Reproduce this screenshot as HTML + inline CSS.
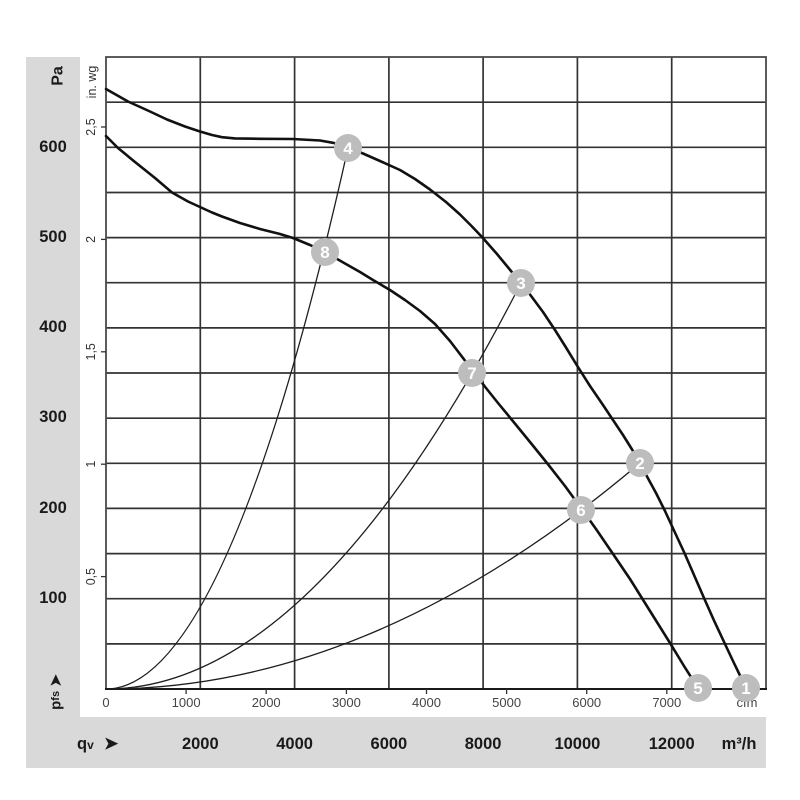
<!DOCTYPE html>
<html><head><meta charset="utf-8"><style>
html,body{margin:0;padding:0;background:#fff;}
svg{display:block;}
text{font-family:"Liberation Sans",Arial,sans-serif;}
</style></head><body>
<svg width="800" height="800" viewBox="0 0 800 800" xmlns="http://www.w3.org/2000/svg">
<rect x="0" y="0" width="800" height="800" fill="#fff"/>
<!-- gray bands -->
<rect x="26" y="57" width="54" height="661" fill="#d9d9d9"/>
<rect x="26" y="717" width="740" height="51" fill="#d9d9d9"/>
<rect x="80" y="57" width="686" height="660" fill="#fff"/>

<!-- grid -->
<g stroke="#333" stroke-width="1.7" fill="none">
<line x1="106" y1="643.9" x2="766" y2="643.9"/>
<line x1="106" y1="598.7" x2="766" y2="598.7"/>
<line x1="106" y1="553.6" x2="766" y2="553.6"/>
<line x1="106" y1="508.4" x2="766" y2="508.4"/>
<line x1="106" y1="463.3" x2="766" y2="463.3"/>
<line x1="106" y1="418.2" x2="766" y2="418.2"/>
<line x1="106" y1="373.0" x2="766" y2="373.0"/>
<line x1="106" y1="327.9" x2="766" y2="327.9"/>
<line x1="106" y1="282.7" x2="766" y2="282.7"/>
<line x1="106" y1="237.6" x2="766" y2="237.6"/>
<line x1="106" y1="192.5" x2="766" y2="192.5"/>
<line x1="106" y1="147.3" x2="766" y2="147.3"/>
<line x1="106" y1="102.2" x2="766" y2="102.2"/>
<line x1="200.3" y1="57" x2="200.3" y2="689"/>
<line x1="294.6" y1="57" x2="294.6" y2="689"/>
<line x1="388.9" y1="57" x2="388.9" y2="689"/>
<line x1="483.1" y1="57" x2="483.1" y2="689"/>
<line x1="577.4" y1="57" x2="577.4" y2="689"/>
<line x1="671.7" y1="57" x2="671.7" y2="689"/>
</g>
<rect x="106" y="57" width="660" height="632" fill="none" stroke="#4a4a4a" stroke-width="1.8"/>
<line x1="105" y1="689" x2="767" y2="689" stroke="#1a1a1a" stroke-width="2"/>

<!-- in. wg ticks -->
<g stroke="#333" stroke-width="1.3">
<line x1="101" y1="127" x2="106" y2="127"/>
<line x1="101" y1="239.4" x2="106" y2="239.4"/>
<line x1="101" y1="351.8" x2="106" y2="351.8"/>
<line x1="101" y1="464.2" x2="106" y2="464.2"/>
<line x1="101" y1="576.6" x2="106" y2="576.6"/>
</g>
<!-- cfm ticks -->
<g stroke="#333" stroke-width="1.3">
<line x1="186.1" y1="689" x2="186.1" y2="694"/>
<line x1="266.2" y1="689" x2="266.2" y2="694"/>
<line x1="346.4" y1="689" x2="346.4" y2="694"/>
<line x1="426.5" y1="689" x2="426.5" y2="694"/>
<line x1="506.6" y1="689" x2="506.6" y2="694"/>
<line x1="586.7" y1="689" x2="586.7" y2="694"/>
<line x1="666.8" y1="689" x2="666.8" y2="694"/>
</g>

<!-- system curves -->
<g stroke="#1e1e1e" stroke-width="1.3" fill="none">
<path d="M106,689 Q227,689 348,148"/>
<path d="M106,689 Q313.5,689 521,283"/>
<path d="M106,689 Q373,689 640,463"/>
</g>

<!-- fan curves -->
<g stroke="#111" stroke-width="2.6" fill="none" stroke-linejoin="round" stroke-linecap="round">
<polyline points="106,89 128,101.5 150,111.5 167,119.5 185,126.5 200,131.5 212,135 222,137.2 235,138.4 260,138.8 293,139 320,140.5 333,142.8 348,147.5 363,153.5 380,161 400,170 415,179 430,189.5 446,202 460,214.5 472,226.5 482,237 497,254 511,271 521,283 530,294.5 543,312 555,330 566,347.5 577,365.5 590,386 603,405 613,420 623,435 633,451 640,463 647,476.5 656,493 665,511 674,530.5 684,552 694,575 704,598 714,620.5 725,644 733,661 740,675.5 746,688"/>
<polyline points="106,136 118,148 135,162 155,178 172,192.5 188,201.5 200,207 212,212.5 222,216.5 240,223 260,229 280,234 293,238 310,245 325,252 345,263.5 360,272 373,280 390,290 405,300 420,311 435,324 450,341 463,358 472,370 486,388 498,403 512,420 530,442 547,463 565,486 581,508 596,529 611,551 630,579 650,611 670,643 684,666 698,688"/>
</g>

<!-- left axis labels -->
<text x="58" y="76" font-size="16" font-weight="bold" fill="#1a1a1a" text-anchor="middle" dominant-baseline="central" transform="rotate(-90 58 76)">Pa</text>
<text x="92" y="82" font-size="12.5" fill="#333" text-anchor="middle" dominant-baseline="central" transform="rotate(-90 92 82)">in. wg</text>
<g font-size="16.5" font-weight="bold" fill="#1a1a1a" text-anchor="middle">
<text x="53" y="152">600</text>
<text x="53" y="242">500</text>
<text x="53" y="332">400</text>
<text x="53" y="422">300</text>
<text x="53" y="513">200</text>
<text x="53" y="603">100</text>
</g>
<g font-size="12.5" fill="#333" text-anchor="middle">
<text x="95" y="127" transform="rotate(-90 95 127)">2,5</text>
<text x="95" y="239.4" transform="rotate(-90 95 239.4)">2</text>
<text x="95" y="351.8" transform="rotate(-90 95 351.8)">1,5</text>
<text x="95" y="464.2" transform="rotate(-90 95 464.2)">1</text>
<text x="95" y="576.6" transform="rotate(-90 95 576.6)">0,5</text>
</g>
<text x="56" y="692" font-size="15" font-weight="bold" fill="#1a1a1a" text-anchor="middle" dominant-baseline="central" transform="rotate(-90 56 692)">p<tspan font-size="11">fs</tspan> ➤</text>

<!-- cfm labels -->
<g font-size="13" fill="#444" text-anchor="middle">
<text x="106" y="707">0</text>
<text x="186.1" y="707">1000</text>
<text x="266.2" y="707">2000</text>
<text x="346.4" y="707">3000</text>
<text x="426.5" y="707">4000</text>
<text x="506.6" y="707">5000</text>
<text x="586.7" y="707">6000</text>
<text x="666.8" y="707">7000</text>
<text x="747" y="707">cfm</text>
</g>

<!-- m3/h labels -->
<g font-size="16.5" font-weight="bold" fill="#1a1a1a" text-anchor="middle">
<text x="200.3" y="749">2000</text>
<text x="294.6" y="749">4000</text>
<text x="388.9" y="749">6000</text>
<text x="483.1" y="749">8000</text>
<text x="577.4" y="749">10000</text>
<text x="671.7" y="749">12000</text>
<text x="739" y="749">m³/h</text>
</g>
<text x="77" y="749" font-size="16.5" font-weight="bold" fill="#1a1a1a">q<tspan font-size="12">v</tspan></text>
<text x="104" y="749" font-size="17" font-weight="bold" fill="#1a1a1a">➤</text>

<!-- markers -->
<g fill="#bdbdbd">
<circle cx="746" cy="688" r="14"/>
<circle cx="640" cy="463" r="14"/>
<circle cx="521" cy="283" r="14"/>
<circle cx="348" cy="148" r="14"/>
<circle cx="698" cy="688" r="14"/>
<circle cx="581" cy="510" r="14"/>
<circle cx="472" cy="373" r="14"/>
<circle cx="325" cy="252" r="14"/>
</g>
<g font-size="17" font-weight="bold" fill="#fff" text-anchor="middle">
<text x="746" y="694">1</text>
<text x="640" y="469">2</text>
<text x="521" y="289">3</text>
<text x="348" y="154">4</text>
<text x="698" y="694">5</text>
<text x="581" y="516">6</text>
<text x="472" y="379">7</text>
<text x="325" y="258">8</text>
</g>
</svg>
</body></html>
